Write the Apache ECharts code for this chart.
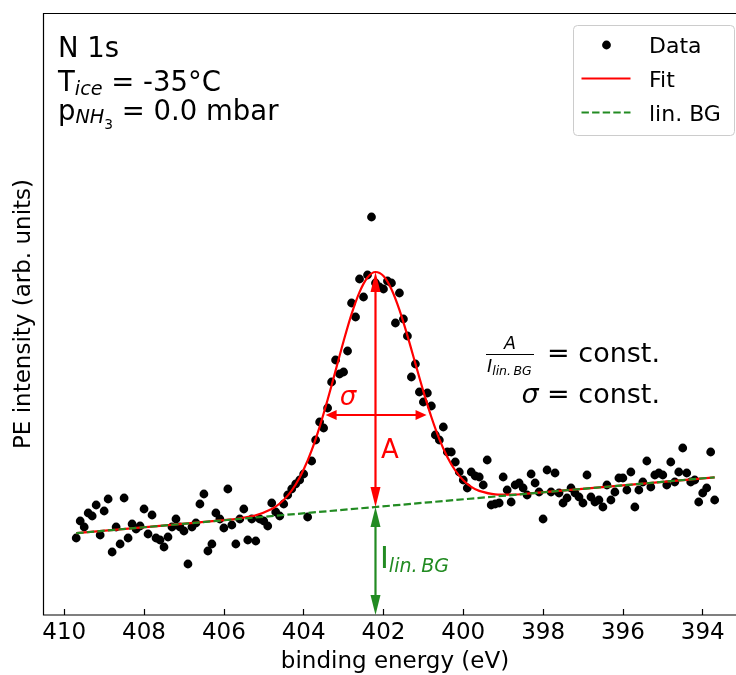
<!DOCTYPE html>
<html><head><meta charset="utf-8">
<script src="https://cdn.jsdelivr.net/npm/echarts@6/dist/echarts.min.js"></script>
<style>html,body{margin:0;padding:0;overflow:hidden;background:#fff}#c{width:800px;height:675px}</style>
</head><body><div id="c"></div>
<script>
// ---- data ----
const energies = [
 409.7,409.6,409.5,409.4,409.3,409.2,409.1,409.0,408.9,408.8,
 408.7,408.6,408.5,408.4,408.3,408.2,408.1,408.0,407.9,407.8,
 407.7,407.6,407.5,407.4,407.3,407.2,407.1,407.0,406.9,406.8,
 406.7,406.6,406.5,406.4,406.3,406.2,406.1,406.0,405.9,405.8,
 405.7,405.6,405.5,405.4,405.3,405.2,405.1,405.0,404.9,404.8,
 404.7,404.6,404.5,404.4,404.3,404.2,404.1,404.0,403.9,403.8,
 403.7,403.6,403.5,403.4,403.3,403.2,403.1,403.0,402.9,402.8,
 402.7,402.6,402.5,402.4,402.3,402.2,402.1,402.0,401.9,401.8,
 401.7,401.6,401.5,401.4,401.3,401.2,401.1,401.0,400.9,400.8,
 400.7,400.6,400.5,400.4,400.3,400.2,400.1,400.0,399.9,399.8,
 399.7,399.6,399.5,399.4,399.3,399.2,399.1,399.0,398.9,398.8,
 398.7,398.6,398.5,398.4,398.3,398.2,398.1,398.0,397.9,397.8,
 397.7,397.6,397.5,397.4,397.3,397.2,397.1,397.0,396.9,396.8,
 396.7,396.6,396.5,396.4,396.3,396.2,396.1,396.0,395.9,395.8,
 395.7,395.6,395.5,395.4,395.3,395.2,395.1,395.0,394.9,394.8,
 394.7,394.6,394.5,394.4,394.3,394.2,394.1,394.0,393.9,393.8,
 393.7];
const intensity = [
 77,94,88,102,99,110,80,104,116,63,
 88,71,117,77,91,86,89,106,81,100,
 77,75,68,78,88,96,88,84,51,88,
 92,111,121,64,71,102,96,87,126,90,
 71,96,106,75,96,74,96,94,89,112,
 103,99,111,120,126,131,135,141,98,154,
 175,193,187,207,233,255,241,243,264,312,
 298,336,318,340,398,332,328,326,334,332,
 292,322,296,279,238,251,223,213,222,209,
 180,175,188,163,163,153,143,135,127,143,
 139,138,130,155,110,111,112,138,125,113,
 130,132,127,120,141,132,123,96,145,123,
 142,122,112,117,127,122,118,112,140,118,
 113,115,108,130,115,123,137,137,125,143,
 108,125,133,154,128,140,142,140,130,153,
 133,143,167,142,133,135,113,122,127,163,
 115];
const fitEnergy = [409.7,406.0,405.6,405.2,404.8,404.6,404.4,404.2,404.0,403.8,403.6,403.4,403.2,403.0,402.8,402.6,402.4,402.2,
 402.0,401.8,401.6,401.4,401.2,401.0,400.8,400.6,400.4,400.2,400.0,399.8,399.6,399.2,398.8,398.4,393.7];
const fitIntensity = [81.8,94.9,96.7,99.7,106.0,111.5,119.4,130.5,145.5,164.7,188.2,215.2,244.4,273.8,300.9,322.9,337.5,343.0,
 338.9,325.7,305.1,279.4,251.4,223.6,198.0,175.9,158.1,144.5,134.8,128.2,124.1,120.7,120.4,121.4,137.7];
const bgEnergy = [409.7, 393.7];
const bgIntensity = [81.8, 137.7];
const xTickLabels = [410,408,406,404,402,400,398,396,394];
// annotation arrows: [x1, y1, x2, y2]
const arrowSegments = [[402.2,343,402.2,108],[402.2,108,402.2,0],[403.45,200,400.92,200]];

// ---- styles ----
const RED = '#ff0000', GREEN = '#228b22';
const LW = 2.2;
const arrowStyles = [{color:RED, head:20, width:10},{color:GREEN, head:20, width:10},{color:RED, head:11, width:10}];
const FAMILY = 'DejaVu Sans';
const mctx = document.createElement('canvas').getContext('2d');
function fontStr(s,it){ return (it?'italic ':'') + s + 'px "' + FAMILY + '"'; }
function measure(t,s,it){ mctx.font = fontStr(s,it); return mctx.measureText(t).width; }
function midOffset(s,it){ mctx.font = fontStr(s,it); mctx.textBaseline='middle'; const m = mctx.measureText('H'); mctx.textBaseline='alphabetic'; const v = m.actualBoundingBoxDescent; return (typeof v === 'number' && isFinite(v)) ? v : 0.35*s; }
function mtext(x, base, segs, color, align){
  const total = segs.reduce((a,g)=>a+measure(g.t,g.s,g.i)+(g.gap||0),0);
  let cx = align==='right' ? x-total : (align==='center' ? x-total/2 : x);
  const out = [];
  for (const g of segs){
    out.push({type:'text', x:cx, y: base + (g.dy||0) - midOffset(g.s,g.i), z:100,
      style:{text:g.t, fontSize:g.s, fontFamily:FAMILY, fontStyle:g.i?'italic':'normal', fill:g.c||color, align:'left', verticalAlign:'middle'}});
    cx += measure(g.t,g.s,g.i) + (g.gap||0);
  }
  return out;
}

function renderArrow(params, api){
  const p1 = api.coord([api.value(0), api.value(1)]);
  const p2 = api.coord([api.value(2), api.value(3)]);
  const st = arrowStyles[params.dataIndex];
  const dx = p2[0]-p1[0], dy = p2[1]-p1[1], len = Math.hypot(dx,dy);
  const ux = dx/len, uy = dy/len, nx = -uy, ny = ux;
  const L = st.head, W = st.width/2;
  const head = (tip, ex, ey) => [[tip[0],tip[1]],[tip[0]-ex*L+nx*W, tip[1]-ey*L+ny*W],[tip[0]-ex*L-nx*W, tip[1]-ey*L-ny*W]];
  return {type:'group', children:[
    {type:'line', shape:{x1:p1[0]+ux*L*0.5, y1:p1[1]+uy*L*0.5, x2:p2[0]-ux*L*0.5, y2:p2[1]-uy*L*0.5}, style:{stroke:st.color, lineWidth:LW}},
    {type:'polygon', shape:{points:head(p2, ux, uy)}, style:{fill:st.color}},
    {type:'polygon', shape:{points:head(p1, -ux, -uy)}, style:{fill:st.color}}
  ]};
}

const TXT = 27.5, SUB = 19.25, SSUB = 13.75, ANN = 27, LBL = 23;
let g = [];
// top-left info
g = g.concat(mtext(58, 57, [{t:'N 1s', s:TXT}], '#000'));
g = g.concat(mtext(58, 90.5, [{t:'T', s:TXT},{t:'ice', s:SUB, i:true, dy:4.5},{t:' = -35°C', s:TXT}], '#000'));
g = g.concat(mtext(58, 119.5, [{t:'p', s:TXT},{t:'NH', s:SUB, i:true, dy:3.5},{t:'3', s:SSUB, dy:9},{t:' = 0.0 mbar', s:TXT}], '#000'));
// right annotation
g = g.concat(mtext(510, 349, [{t:'A', s:17.5, i:true}], '#000', 'center'));
g.push({type:'line', shape:{x1:486, y1:354.5, x2:534, y2:354.5}, style:{stroke:'#000', lineWidth:1.2}, z:100});
g = g.concat(mtext(487, 371.5, [{t:'I', s:17.5, i:true},{t:'lin.\u2009BG', s:12.5, i:true, dy:3}], '#000'));
g = g.concat(mtext(660, 361.5, [{t:'= const.', s:ANN}], '#000', 'right'));
g = g.concat(mtext(660, 402.5, [{t:'σ', s:ANN, i:true},{t:' = const.', s:ANN}], '#000', 'right'));
// annotations on plot
g = g.concat(mtext(348, 405, [{t:'σ', s:26, i:true}], RED, 'center'));
g = g.concat(mtext(381, 458, [{t:'A', s:26}], RED));
g = g.concat(mtext(380, 568, [{t:'I', s:30},{t:'lin.\u2009BG', s:19, i:true, dy:4}], GREEN));
// axis names
g = g.concat(mtext(395, 668, [{t:'binding energy (eV)', s:LBL}], '#000', 'center'));
g.push({type:'text', x:24, y:314, rotation:Math.PI/2, z:100,
  style:{text:'PE intensity (arb. units)', fontSize:LBL, fontFamily:FAMILY, fill:'#000', align:'center', verticalAlign:'middle'}});
// legend
g.push({type:'rect', shape:{x:573.5, y:25.5, width:161, height:110, r:4}, style:{fill:'rgba(255,255,255,0.8)', stroke:'#cccccc', lineWidth:1}, z:90});
g.push({type:'circle', shape:{cx:606.5, cy:45, r:4.4}, style:{fill:'#000'}, z:100});
g.push({type:'line', shape:{x1:581.5, y1:78.5, x2:630.5, y2:78.5}, style:{stroke:RED, lineWidth:LW}, z:100});
g.push({type:'line', shape:{x1:581.5, y1:112.5, x2:630.5, y2:112.5}, style:{stroke:GREEN, lineWidth:LW, lineDash:[7.4,3.2]}, z:100});
g = g.concat(mtext(649, 52.5, [{t:'Data', s:22}], '#000'));
g = g.concat(mtext(649, 86.5, [{t:'Fit', s:22}], '#000'));
g = g.concat(mtext(649, 120.5, [{t:'lin. BG', s:22}], '#000'));

const chart = echarts.init(document.getElementById('c'), null, {renderer:'canvas'});
chart.setOption({
  animation:false,
  backgroundColor:'#fff',
  grid:{left:43.5, top:13.5, width:739, height:601.5, show:true, borderColor:'#000', borderWidth:1.2, backgroundColor:'transparent', containLabel:false},
  xAxis:{type:'value', inverse:true, min:392, max:410.52, interval:2,
    axisLine:{show:false}, splitLine:{show:false},
    axisTick:{show:true, inside:true, length:6, lineStyle:{color:'#000', width:1.2}, customValues:xTickLabels},
    axisLabel:{show:true, margin:7, fontSize:LBL, fontFamily:FAMILY, color:'#000', customValues:xTickLabels, showMaxLabel:true, showMinLabel:true}},
  yAxis:{type:'value', min:0, max:601.5, show:true, axisLine:{show:false}, axisTick:{show:false}, axisLabel:{show:false}, splitLine:{show:false}},
  series:[
    {type:'scatter', name:'Data', data:energies.map((e,i)=>[e,intensity[i]]), symbol:'circle', symbolSize:8.8, itemStyle:{color:'#000', opacity:1}, z:2, silent:true},
    {type:'line', name:'Fit', data:fitEnergy.map((e,i)=>[e,fitIntensity[i]]), showSymbol:false, smooth:0.3, lineStyle:{color:RED, width:LW}, z:3, silent:true},
    {type:'line', name:'lin. BG', data:bgEnergy.map((e,i)=>[e,bgIntensity[i]]), showSymbol:false, lineStyle:{color:GREEN, width:LW, type:[7.4,3.2]}, z:4, silent:true},
    {type:'custom', renderItem:renderArrow, data:arrowSegments, encode:{x:[0,2], y:[1,3]}, z:5, silent:true, clip:false}
  ],
  graphic:{elements:g}
});
</script></body></html>
